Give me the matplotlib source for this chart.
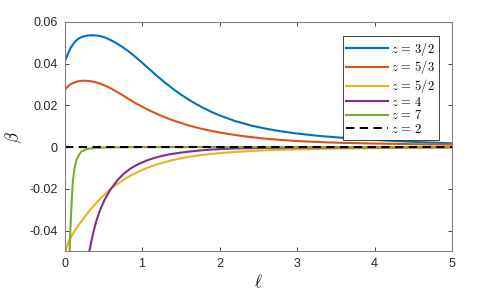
import numpy as np
import matplotlib
matplotlib.use("Agg")
import matplotlib.pyplot as plt

plt.rcParams['font.family'] = ['Liberation Sans', 'DejaVu Sans']
plt.rcParams['mathtext.fontset'] = 'cm'

# valeurs (l, beta)
l_32 = [0, 0.02, 0.05, 0.08, 0.12, 0.16, 0.20, 0.25, 0.30, 0.35, 0.40, 0.45, 0.50, 0.55,
        0.60, 0.65, 0.70, 0.75, 0.80, 0.85, 0.90, 0.95, 1.00, 1.10, 1.20, 1.30, 1.40, 1.50,
        1.60, 1.70, 1.80, 1.90, 2.00, 2.20, 2.40, 2.60, 2.80, 3.00, 3.30, 3.60, 4.00, 4.50, 5.00]
b_32 = [0.0405, 0.0425, 0.0452, 0.0476, 0.0498, 0.0514, 0.0524, 0.0531, 0.0535, 0.0536,
        0.0535, 0.0533, 0.0528, 0.0521, 0.0512, 0.0502, 0.0491, 0.0479, 0.0466, 0.0452,
        0.0437, 0.0421, 0.0405, 0.0372, 0.0339, 0.0308, 0.0279, 0.0252, 0.0228, 0.0206,
        0.0186, 0.0168, 0.0152, 0.0125, 0.0104, 0.0088, 0.0075, 0.0065, 0.0053, 0.0044,
        0.0034, 0.0025, 0.0018]

l_53 = [0, 0.03, 0.07, 0.11, 0.16, 0.21, 0.26, 0.31, 0.36, 0.41, 0.46, 0.52, 0.59, 0.66,
        0.73, 0.80, 0.90, 1.00, 1.10, 1.20, 1.30, 1.40, 1.50, 1.60, 1.70, 1.80, 1.90, 2.00,
        2.20, 2.40, 2.60, 2.80, 3.00, 3.30, 3.60, 4.00, 4.50, 5.00]
b_53 = [0.0271, 0.0286, 0.0299, 0.0307, 0.0314, 0.0317, 0.0318, 0.0317, 0.0314, 0.0310,
        0.0304, 0.0295, 0.0283, 0.0268, 0.0253, 0.0237, 0.0214, 0.0194, 0.0175, 0.0158,
        0.0142, 0.0128, 0.0116, 0.0104, 0.0094, 0.0085, 0.0077, 0.0070, 0.0058, 0.0048,
        0.0040, 0.0034, 0.0029, 0.0024, 0.0020, 0.0017, 0.0014, 0.0012]

l_52 = [0.005, 0.02, 0.05, 0.09, 0.14, 0.20, 0.28, 0.37, 0.48, 0.59, 0.70, 0.80, 0.90, 1.00,
        1.10, 1.20, 1.30, 1.40, 1.50, 1.60, 1.75, 1.92, 2.10, 2.35, 2.55, 2.78, 3.0, 3.5,
        4.0, 4.5, 5.0]
b_52 = [-0.0525, -0.0490, -0.0455, -0.0427, -0.0397, -0.0365, -0.0325, -0.0284, -0.0240,
        -0.0203, -0.0172, -0.0148, -0.0127, -0.0110, -0.0095, -0.0082, -0.0071, -0.0062,
        -0.0054, -0.0047, -0.0039, -0.0032, -0.0026, -0.0020, -0.0016, -0.0013, -0.0011,
        -0.0007, -0.0005, -0.0004, -0.0003]

l_4 = [0.31, 0.34, 0.37, 0.41, 0.46, 0.52, 0.59, 0.68, 0.76, 0.85, 0.95, 1.05, 1.15, 1.25,
       1.35, 1.49, 1.60, 1.75, 1.9, 2.1, 2.3, 2.6, 3.0, 4.0, 5.0]
b_4 = [-0.0520, -0.0463, -0.0412, -0.0355, -0.0300, -0.0251, -0.0205, -0.0160, -0.0129,
       -0.0103, -0.0082, -0.0066, -0.0053, -0.0043, -0.0035, -0.0027, -0.0022, -0.0016,
       -0.0012, -0.0008, -0.0006, -0.0004, -0.0002, -0.0001, 0]

l_7 = [0.065, 0.075, 0.09, 0.10, 0.11, 0.13, 0.155, 0.19, 0.22, 0.28, 0.37, 0.5, 0.7, 1.0, 5.0]
b_7 = [-0.052, -0.040, -0.0284, -0.021, -0.0157, -0.0100, -0.0061, -0.0035, -0.0021,
       -0.0010, -0.0005, -0.0002, -0.0001, 0, 0]

l_2 = [0, 5]
b_2 = [0, 0]

x_ticks = [0, 1, 2, 3, 4, 5]
y_ticks = [-0.04, -0.02, 0, 0.02, 0.04, 0.06]
y_tick_labels = ['-0.04', '-0.02', '0', '0.02', '0.04', '0.06']


def visual():
    fig = plt.figure(figsize=(5, 3), dpi=100)
    ax = fig.add_axes([0.129, 0.162, 0.775, 0.765])

    lw = 1.5
    ax.plot(l_32, b_32, color='#0072BD', lw=lw, label=r'$z\,=\,3/2$')
    ax.plot(l_53, b_53, color='#D95319', lw=lw, label=r'$z\,=\,5/3$')
    ax.plot(l_52, b_52, color='#EDB120', lw=lw, label=r'$z\,=\,5/2$')
    ax.plot(l_4, b_4, color='#7E2F8E', lw=lw, label=r'$z\,=\,4$')
    ax.plot(l_7, b_7, color='#77AC30', lw=lw, label=r'$z\,=\,7$')
    ax.plot(l_2, b_2, color='black', lw=lw, ls=(0, (4, 2.6)), label=r'$z\,=\,2$')

    ax.set_xlim(0, 5)
    ax.set_ylim(-0.05, 0.06)
    ax.set_xticks(x_ticks)
    ax.set_yticks(y_ticks)
    ax.set_yticklabels(y_tick_labels)
    ax.tick_params(direction='in', length=3, width=0.6, top=True, right=True,
                   labelsize=9, colors='#262626', pad=5)
    for s in ax.spines.values():
        s.set_color('#808080')
        s.set_linewidth(0.8)

    ax.set_xlabel(r'$\ell$', fontsize=12, labelpad=2)
    ax.set_ylabel(r'$\beta$', fontsize=12, labelpad=4)

    leg = ax.legend(loc='upper right', bbox_to_anchor=(0.966, 0.939), borderaxespad=0,
                    fontsize=9, handlelength=3.3, handletextpad=0.3, labelspacing=0.05,
                    borderpad=0.3, fancybox=False, framealpha=1, edgecolor='#262626')
    leg.get_frame().set_linewidth(0.6)

    fig.savefig('out.png', dpi=100)


visual()
